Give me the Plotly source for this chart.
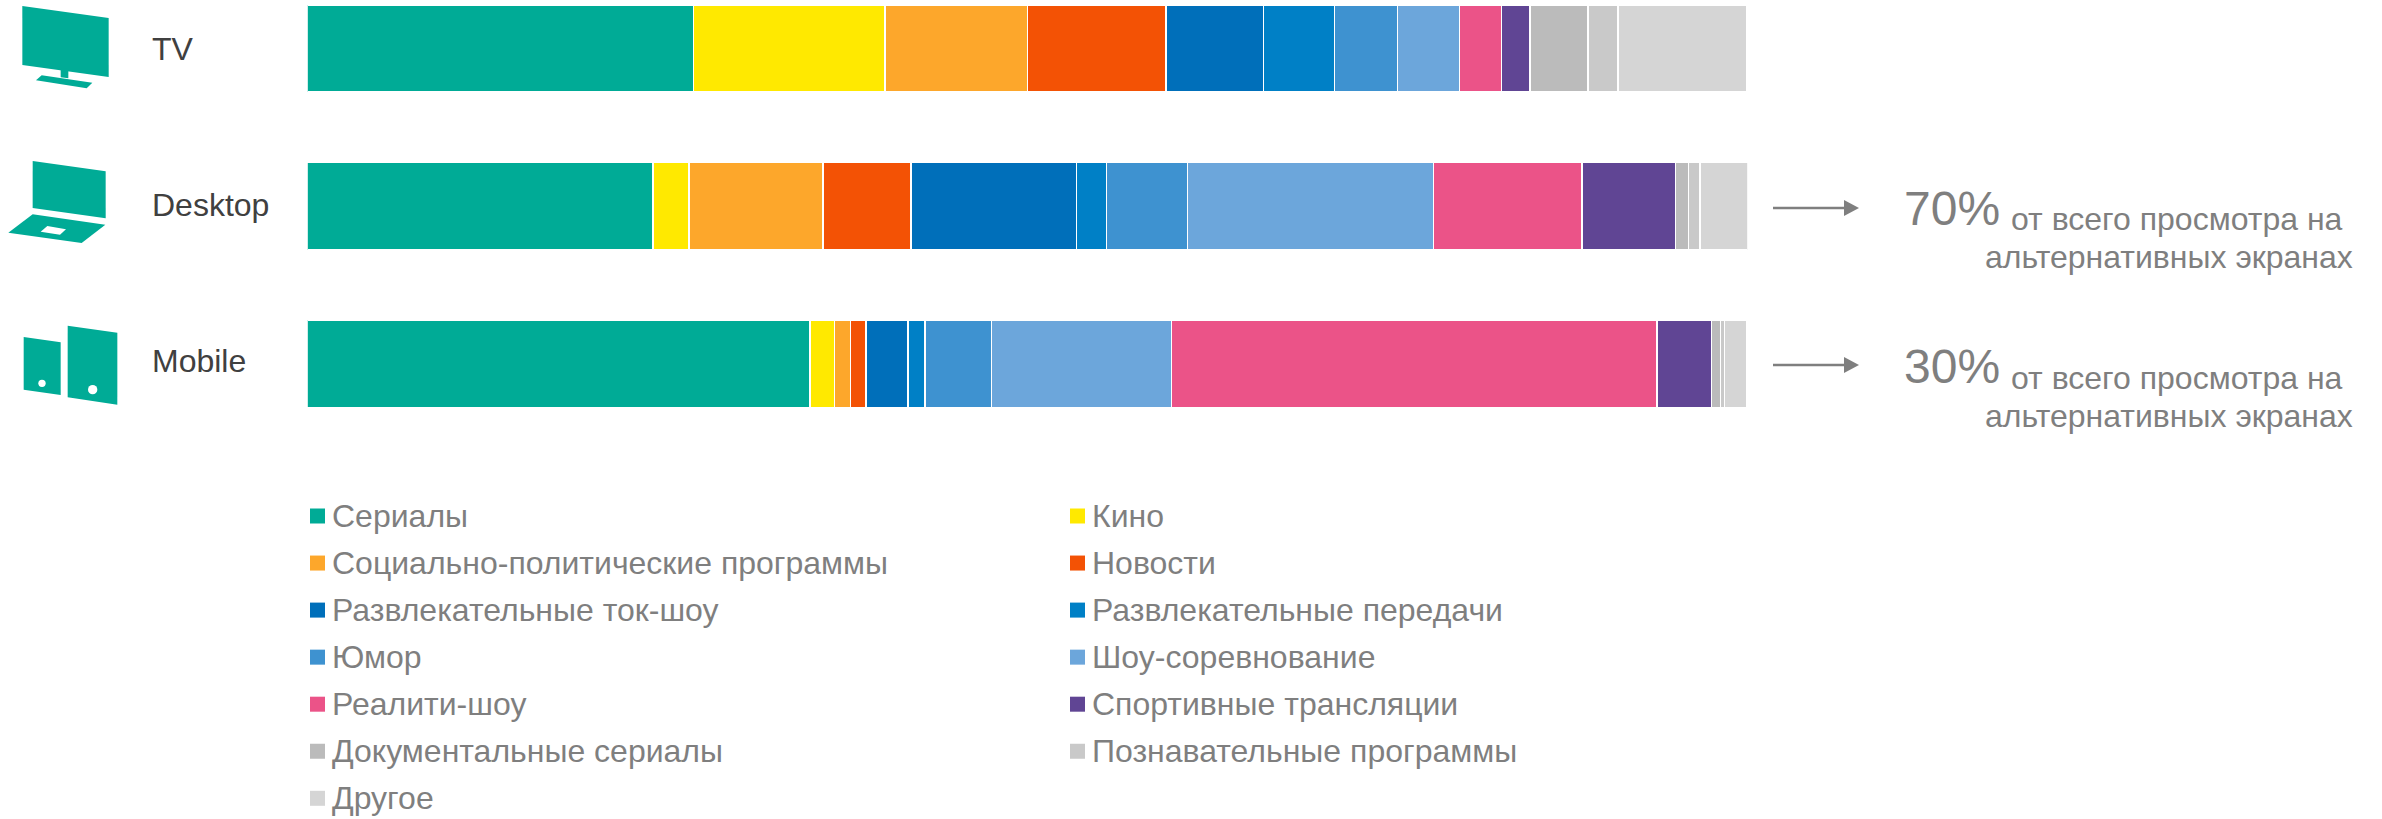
import plotly.graph_objects as go

W, H = 2382, 819
FONT = "Liberation Sans"

devices = ["TV", "Desktop", "Mobile"]
genres = ["Сериалы", "Кино", "Социально-политические программы", "Новости",
          "Развлекательные ток-шоу", "Развлекательные передачи", "Юмор",
          "Шоу-соревнование", "Реалити-шоу", "Спортивные трансляции",
          "Документальные сериалы", "Познавательные программы", "Другое"]
colors = ["#00AB96", "#FFE900", "#FDA72B", "#F35205", "#006FBA", "#0080C6",
          "#3E92D0", "#6CA6DB", "#EB5388", "#604594", "#BBBBBB", "#C9C9C9", "#D5D5D5"]
tv_values = [26.8, 13.3, 9.9, 9.6, 6.8, 4.9, 4.4, 4.3, 2.9, 2.0, 4.0, 2.1, 8.9]
desktop_values = [24.0, 2.5, 9.3, 6.1, 11.5, 2.1, 5.6, 17.1, 10.3, 6.5, 0.9, 0.8, 3.3]
mobile_values = [34.9, 1.7, 1.1, 1.1, 2.9, 1.2, 4.6, 12.5, 33.7, 3.8, 0.6, 0.3, 1.5]


def px(x):
    return x / W


def py(y):
    return 1 - y / H


def poly(points):
    return "M" + " L".join(f"{px(a / 3):.5f},{py(b / 3):.5f}" for a, b in points) + " Z"


fig = go.Figure()
for i, g in enumerate(genres):
    fig.add_trace(go.Bar(
        name=g, orientation="h", y=devices,
        x=[tv_values[i], desktop_values[i], mobile_values[i]],
        marker=dict(color=colors[i], line=dict(color="#FFFFFF", width=1.5)),
        showlegend=False, hoverinfo="x+y+name"))

shapes, ann = [], []
TEAL = colors[0]


def add_poly(points, color=TEAL):
    shapes.append(dict(type="path", xref="paper", yref="paper", path=poly(points),
                       fillcolor=color, line=dict(width=0), layer="above"))


def add_dot(cx, cy, r):
    shapes.append(dict(type="circle", xref="paper", yref="paper",
                       x0=px((cx - r) / 3), x1=px((cx + r) / 3),
                       y0=py((cy - r) / 3), y1=py((cy + r) / 3),
                       fillcolor="#FFFFFF", line=dict(width=0), layer="above"))


# device icons
add_poly([(67, 18), (326, 54), (326, 231), (67, 195)])
add_poly([(182, 205), (205, 208), (205, 235), (182, 232)])
add_poly([(108, 241), (125, 226), (277, 248), (260, 265)])
add_poly([(98, 483), (317, 514), (317, 655), (98, 624)])
add_poly([(25, 698), (98, 643), (316, 674), (245, 729)])
add_poly([(122, 695), (142, 678), (198, 688), (180, 704)], "#FFFFFF")
add_poly([(71, 1011), (182, 1027), (182, 1185), (71, 1169)])
add_dot(126, 1150, 11)
add_poly([(203, 977), (352, 998), (352, 1214), (203, 1192)])
add_dot(278, 1169, 14)


def text(x, y, s, size, color="#7F7F7F", anchor="left"):
    ann.append(dict(xref="paper", yref="paper", x=px(x), y=py(y), text=s,
                    xanchor=anchor, yanchor="middle", showarrow=False,
                    font=dict(family=FONT, size=size, color=color)))


for d, yy in zip(devices, [48.5, 204.5, 360.5]):
    text(149.5, yy, d, 32, "#404040")

# arrows and side notes
for yy, pct, base in [(208, "70%", 225), (365, "30%", 384)]:
    shapes.append(dict(type="line", xref="paper", yref="paper",
                       x0=px(1773), x1=px(1846), y0=py(yy), y1=py(yy),
                       line=dict(color="#7F7F7F", width=2.5)))
    shapes.append(dict(type="path", xref="paper", yref="paper",
                       path=f"M{px(1844)},{py(yy - 8)} L{px(1859)},{py(yy)} L{px(1844)},{py(yy + 8)} Z",
                       fillcolor="#7F7F7F", line=dict(width=0)))
    text(1902, base - 17, pct, 48)
    text(2345, base - 6, "от всего просмотра на", 32, anchor="right")
    text(2355, base + 31.5, "альтернативных экранах", 32, anchor="right")

# legend
for i, g in enumerate(genres):
    col, row = i % 2, i // 2
    x0 = 310 if col == 0 else 1070
    yc = 516 + 47.05 * row
    shapes.append(dict(type="rect", xref="paper", yref="paper",
                       x0=px(x0), x1=px(x0 + 15), y0=py(yc - 7.5), y1=py(yc + 7.5),
                       fillcolor=colors[i], line=dict(width=0)))
    text(x0 + 20, yc, g, 32)

fig.update_layout(
    width=W, height=H, margin=dict(l=0, r=0, t=0, b=0, pad=0),
    barmode="stack", bargap=0.4485, paper_bgcolor="#FFFFFF", plot_bgcolor="#FFFFFF",
    shapes=shapes, annotations=ann, showlegend=False,
    font=dict(family=FONT),
    xaxis=dict(domain=[px(307.25), px(1747.75)], range=[0, 100], visible=False, fixedrange=True),
    yaxis=dict(type="category", categoryorder="array", categoryarray=devices,
               domain=[0, 1], range=[4.884, -0.307], visible=False, fixedrange=True),
)
fig.write_html("out.html", config={"displayModeBar": False},
               post_script="document.body.style.margin='0';document.body.style.overflow='hidden';window.dispatchEvent(new Event('resize'));")
